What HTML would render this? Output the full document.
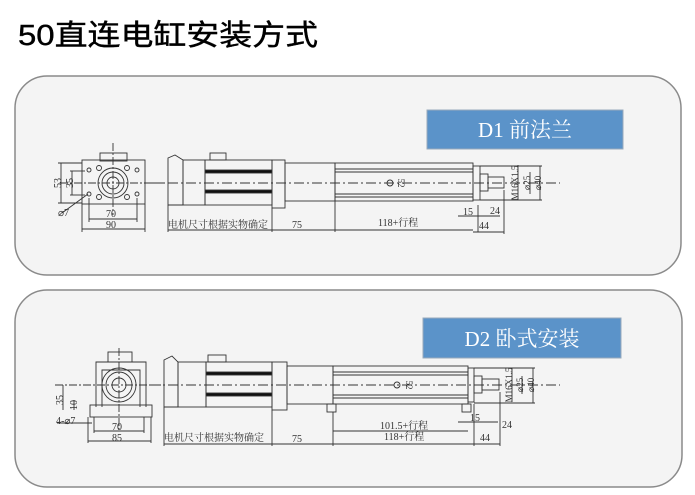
<!DOCTYPE html>
<html><head><meta charset="utf-8"><style>
html,body{margin:0;padding:0;background:#fff;}
svg{display:block;}
.t{font-family:"Liberation Serif","Noto Serif CJK SC",serif;fill:#333;}
</style></head><body>
<svg width="695" height="495" viewBox="0 0 695 495" xmlns="http://www.w3.org/2000/svg">
<text x="18" y="45" font-family="'Liberation Sans','Noto Sans CJK SC',sans-serif" font-size="29" fill="#000" stroke="#000" stroke-width="0.4" textLength="300" lengthAdjust="spacingAndGlyphs">50直连电缸安装方式</text>

<rect x="15" y="76" width="666" height="199" rx="32" fill="#f4f4f4" stroke="#8a8a8a" stroke-width="1.5"/>
<rect x="15" y="290" width="667" height="197" rx="32" fill="#f4f4f4" stroke="#8a8a8a" stroke-width="1.5"/>

<rect x="427" y="110" width="196" height="39" fill="#5b93c9" stroke="#9ab" stroke-width="1"/>
<text x="525" y="137" text-anchor="middle" font-family="'Liberation Serif','Noto Serif CJK SC',serif" font-size="21" fill="#fff">D1  前法兰</text>
<rect x="423" y="318" width="198" height="40" fill="#5b93c9" stroke="#9ab" stroke-width="1"/>
<text x="522" y="346" text-anchor="middle" font-family="'Liberation Serif','Noto Serif CJK SC',serif" font-size="21" fill="#fff">D2  卧式安装</text>

<g fill="none" stroke="#333" stroke-width="0.9">
<!-- D1 front view -->
<line x1="60" y1="183" x2="165" y2="183" stroke-dasharray="8,2,2,2"/>
<line x1="113" y1="143" x2="113" y2="215" stroke-dasharray="8,2,2,2"/>
<rect x="82" y="160" width="63" height="44"/>
<rect x="100" y="153" width="27" height="8"/>
<circle cx="113" cy="183" r="15"/><circle cx="113" cy="183" r="11"/><circle cx="113" cy="183" r="6"/>
<circle cx="99" cy="168" r="2.5"/><circle cx="127" cy="168" r="2.5"/><circle cx="99" cy="197" r="2.5"/><circle cx="127" cy="197" r="2.5"/>
<circle cx="89" cy="170" r="2"/><circle cx="137" cy="170" r="2"/><circle cx="89" cy="194" r="2"/><circle cx="137" cy="194" r="2"/>
<line x1="61" y1="163" x2="61" y2="203"/><line x1="58" y1="163" x2="82" y2="163"/><line x1="58" y1="203" x2="82" y2="203"/>
<line x1="72" y1="171" x2="72" y2="195"/><line x1="70" y1="171" x2="85" y2="171"/><line x1="70" y1="195" x2="85" y2="195"/>
<line x1="62" y1="213" x2="88" y2="194"/>
<line x1="89" y1="198" x2="89" y2="222"/><line x1="137" y1="198" x2="137" y2="222"/><line x1="89" y1="219" x2="137" y2="219"/>
<line x1="82" y1="204" x2="82" y2="232"/><line x1="145" y1="204" x2="145" y2="232"/><line x1="82" y1="229" x2="145" y2="229"/>
<!-- D1 side view -->
<line x1="150" y1="183" x2="560" y2="183" stroke-dasharray="10,3,2,3"/>
<path d="M168 158 L175 155 L183 160 L183 205 L168 205 Z"/>
<rect x="183" y="160" width="22" height="45"/>
<rect x="205" y="160" width="67" height="45"/>
<rect x="210" y="153" width="16" height="7"/>
<rect x="205" y="170" width="67" height="3" fill="#111"/><rect x="205" y="190" width="67" height="3" fill="#111"/>
<rect x="272" y="160" width="13" height="48"/>
<rect x="285" y="163" width="50" height="38"/>
<rect x="335" y="163" width="138" height="38"/>
<line x1="335" y1="169" x2="473" y2="169"/><line x1="335" y1="172" x2="473" y2="172"/>
<line x1="335" y1="194" x2="473" y2="194"/><line x1="335" y1="197" x2="473" y2="197"/>
<circle cx="390" cy="183" r="3"/>
<rect x="473" y="166" width="7" height="34"/>
<rect x="480" y="174" width="8" height="17"/>
<rect x="488" y="177" width="16" height="11"/>
<line x1="168" y1="205" x2="168" y2="232"/><line x1="272" y1="208" x2="272" y2="232"/><line x1="335" y1="201" x2="335" y2="232"/>
<line x1="168" y1="230" x2="473" y2="230"/><line x1="478" y1="205" x2="478" y2="232"/>
<line x1="473" y1="232" x2="504" y2="232"/><line x1="504" y1="190" x2="504" y2="234"/>
<line x1="458" y1="216" x2="500" y2="216"/>
<line x1="518" y1="165" x2="518" y2="200"/><line x1="530" y1="172" x2="530" y2="194"/><line x1="540" y1="166" x2="540" y2="200"/>
<line x1="480" y1="166" x2="542" y2="166"/><line x1="480" y1="200" x2="542" y2="200"/>
<!-- D2 front view -->
<line x1="55" y1="385" x2="165" y2="385" stroke-dasharray="8,2,2,2"/>
<line x1="119" y1="348" x2="119" y2="430" stroke-dasharray="8,2,2,2"/>
<path d="M96 407 L96 362 L146 362 L146 407"/>
<path d="M102 407 L102 370 L140 370 L140 407"/>
<rect x="108" y="352" width="24" height="10"/>
<circle cx="119" cy="385" r="17"/><circle cx="119" cy="385" r="13"/><circle cx="119" cy="385" r="7"/>
<rect x="90" y="405" width="62" height="12"/>
<line x1="63" y1="385" x2="63" y2="410"/><line x1="74" y1="400" x2="74" y2="410"/>
<line x1="57" y1="423" x2="92" y2="423"/>
<line x1="94" y1="417" x2="94" y2="433"/><line x1="144" y1="417" x2="144" y2="433"/><line x1="94" y1="431" x2="144" y2="431"/>
<line x1="88" y1="417" x2="88" y2="443"/><line x1="151" y1="417" x2="151" y2="443"/><line x1="88" y1="441" x2="151" y2="441"/>
<!-- D2 side view -->
<line x1="150" y1="385" x2="560" y2="385" stroke-dasharray="10,3,2,3"/>
<path d="M164 360 L172 356 L178 362 L178 407 L164 407 Z"/>
<rect x="178" y="362" width="28" height="45"/>
<rect x="206" y="362" width="66" height="45"/>
<rect x="208" y="355" width="18" height="7"/>
<rect x="206" y="372" width="66" height="3" fill="#111"/><rect x="206" y="393" width="66" height="3" fill="#111"/>
<rect x="272" y="362" width="15" height="48"/>
<rect x="287" y="366" width="46" height="38"/>
<rect x="333" y="366" width="135" height="38"/>
<line x1="333" y1="372" x2="468" y2="372"/><line x1="333" y1="375" x2="468" y2="375"/>
<line x1="333" y1="395" x2="468" y2="395"/><line x1="333" y1="398" x2="468" y2="398"/>
<circle cx="397" cy="385" r="3"/>
<rect x="327" y="404" width="9" height="8"/><rect x="462" y="404" width="9" height="8"/>
<rect x="468" y="368" width="6" height="34"/>
<rect x="474" y="376" width="8" height="17"/>
<rect x="482" y="379" width="17" height="11"/>
<line x1="164" y1="407" x2="164" y2="446"/><line x1="272" y1="410" x2="272" y2="446"/><line x1="333" y1="412" x2="333" y2="446"/>
<line x1="164" y1="444" x2="474" y2="444"/><line x1="474" y1="404" x2="474" y2="446"/>
<line x1="474" y1="444" x2="500" y2="444"/><line x1="500" y1="392" x2="500" y2="446"/>
<line x1="333" y1="431" x2="468" y2="431"/>
<line x1="458" y1="422" x2="498" y2="422"/>
<line x1="512" y1="368" x2="512" y2="402"/><line x1="522" y1="376" x2="522" y2="394"/><line x1="533" y1="368" x2="533" y2="403"/>
<line x1="474" y1="368" x2="535" y2="368"/><line x1="474" y1="403" x2="535" y2="403"/>
</g>

<g class="t" font-size="10">
<text x="58" y="186" text-anchor="middle" transform="rotate(-90 58 183)">53</text>
<text x="70" y="186" text-anchor="middle" transform="rotate(-90 70 183)">35</text>
<text x="58" y="216">⌀7</text>
<text x="106" y="217">70</text>
<text x="106" y="228">90</text>
<text x="168" y="228" font-size="10">电机尺寸根据实物确定</text>
<text x="292" y="228">75</text>
<text x="378" y="226">118+行程</text>
<text x="463" y="215">15</text>
<text x="490" y="214">24</text>
<text x="479" y="229">44</text>
<text x="401" y="186" font-size="9" text-anchor="middle" transform="rotate(90 401 183)">52</text>
<text x="515" y="186" font-size="9" text-anchor="middle" transform="rotate(-90 515 183)">M16X1.5</text>
<text x="527" y="186" font-size="9" text-anchor="middle" transform="rotate(-90 527 183)">⌀25</text>
<text x="538" y="186" font-size="9" text-anchor="middle" transform="rotate(-90 538 183)">⌀40</text>

<text x="60" y="403" text-anchor="middle" transform="rotate(-90 60 400)">35</text>
<text x="74" y="408" text-anchor="middle" transform="rotate(-90 74 405)">10</text>
<text x="56" y="424">4-⌀7</text>
<text x="112" y="430">70</text>
<text x="112" y="441">85</text>
<text x="164" y="441">电机尺寸根据实物确定</text>
<text x="292" y="442">75</text>
<text x="380" y="429">101.5+行程</text>
<text x="384" y="440">118+行程</text>
<text x="470" y="421">15</text>
<text x="502" y="428">24</text>
<text x="480" y="441">44</text>
<text x="409" y="388" font-size="9" text-anchor="middle" transform="rotate(90 409 385)">52</text>
<text x="509" y="388" font-size="9" text-anchor="middle" transform="rotate(-90 509 385)">M16X1.5</text>
<text x="520" y="388" font-size="9" text-anchor="middle" transform="rotate(-90 520 385)">⌀25</text>
<text x="531" y="388" font-size="9" text-anchor="middle" transform="rotate(-90 531 385)">⌀40</text>
</g>
</svg>
</body></html>
